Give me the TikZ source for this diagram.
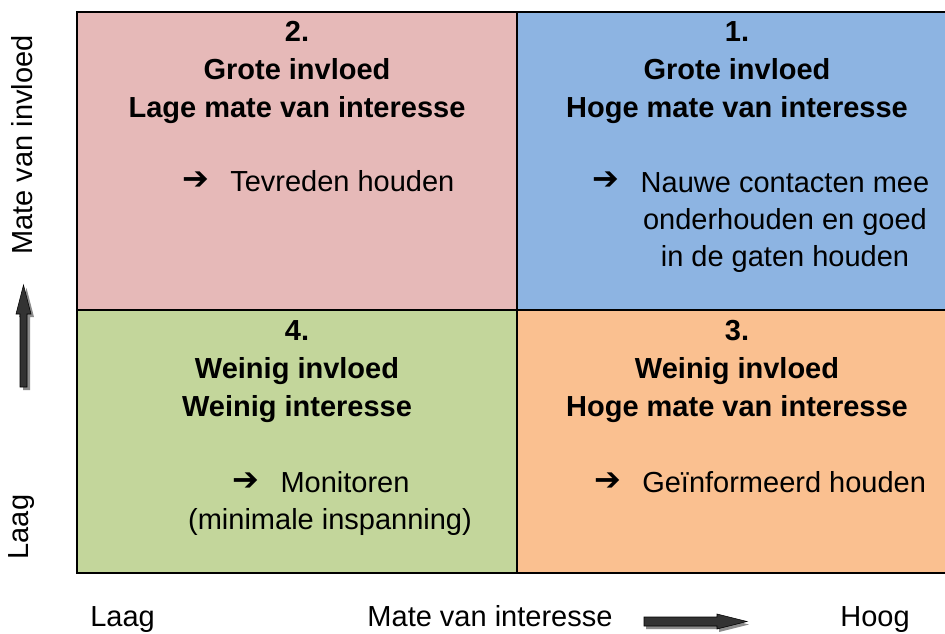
\documentclass[tikz,border=0pt]{standalone}
\usepackage{fontspec}
\setmainfont{Liberation Sans}
\newfontfamily\arrowfont{DejaVu Sans}
\definecolor{quadpink}{HTML}{E6B9B8}
\definecolor{quadblue}{HTML}{8DB4E2}
\definecolor{quadgreen}{HTML}{C3D69B}
\definecolor{quadorange}{HTML}{FAC090}
\begin{document}
\begin{tikzpicture}[x=0.75pt,y=-0.75pt,
  head/.style={align=center,font=\bfseries\fontsize{21.75}{28.5}\selectfont,inner sep=0pt,anchor=north},
  body/.style={font=\fontsize{21.75}{27.5}\selectfont,inner sep=0pt},
  pointer/.style={font=\arrowfont\bfseries\fontsize{24}{24}\selectfont,inner sep=0pt},
  axis/.style={font=\fontsize{21.75}{26}\selectfont,inner sep=0pt}]
  \clip (0,0) rectangle (945,633);
  \fill[white] (0,0) rectangle (945,633);
  \fill[quadpink] (77,12) rectangle (517,310);
  \fill[quadblue] (517,12) rectangle (957,310);
  \fill[quadgreen] (77,310) rectangle (517,573);
  \fill[quadorange] (517,310) rectangle (957,573);
  \draw[line width=1.8pt] (77,12) rectangle (957,573);
  \draw[line width=1.8pt] (517,12) -- (517,573) (77,310) -- (957,310);

  \node[head] (q2) at (297,21) {2.\\Grote invloed\\Lage mate van interesse};
  \node[head] (q1) at (737,21) {1.\\Grote invloed\\Hoge mate van interesse};
  \node[head] (q4) at (297,320) {4.\\Weinig invloed\\Weinig interesse};
  \node[head] (q3) at (737,320) {3.\\Weinig invloed\\Hoge mate van interesse};

  \node[pointer] (p2) at (196,181) {➔};
  \node[body,anchor=base west] (a2) at (230,191.5) {Tevreden houden};
  \node[pointer] (p1) at (606,181) {➔};
  \node[body,align=center,anchor=north] (a1) at (785,172.5)
        {Nauwe contacten mee\\onderhouden en goed\\in de gaten houden};
  \node[pointer] (p4) at (246,482) {➔};
  \node[body,anchor=base] (a4) at (345,492.5) {Monitoren};
  \node[body,anchor=base] (a4b) at (330,529.5) {(minimale inspanning)};
  \node[pointer] (p3) at (608,482) {➔};
  \node[body,anchor=base west] (a3) at (642,492.5) {Geïnformeerd houden};

  \node[axis,rotate=90] (ylab) at (22,145) {Mate van invloed};
  \node[axis,rotate=90] (ylow) at (22,527) {Laag};
  \node[axis,anchor=base west] (xlow) at (90,626) {Laag};
  \node[axis,anchor=base] (xlab) at (490,626) {Mate van interesse};
  \node[axis,anchor=base east] (xhigh) at (910,626) {Hoog};

  \fill[black!45,shift={(3,3)}] (20,387) -- (20,314) -- (16,314) -- (23.5,285)
        -- (31,314) -- (27,314) -- (27,387) -- cycle;
  \draw[fill=black!80] (20,387) -- (20,314) -- (16,314) -- (23.5,285)
        -- (31,314) -- (27,314) -- (27,387) -- cycle;
  \fill[black!45,shift={(2,3)}] (644,617) -- (717,617) -- (717,614) -- (747,621.5)
        -- (717,629) -- (717,626) -- (644,626) -- cycle;
  \draw[fill=black!80] (644,617) -- (717,617) -- (717,614) -- (747,621.5)
        -- (717,629) -- (717,626) -- (644,626) -- cycle;
\end{tikzpicture}
\end{document}
